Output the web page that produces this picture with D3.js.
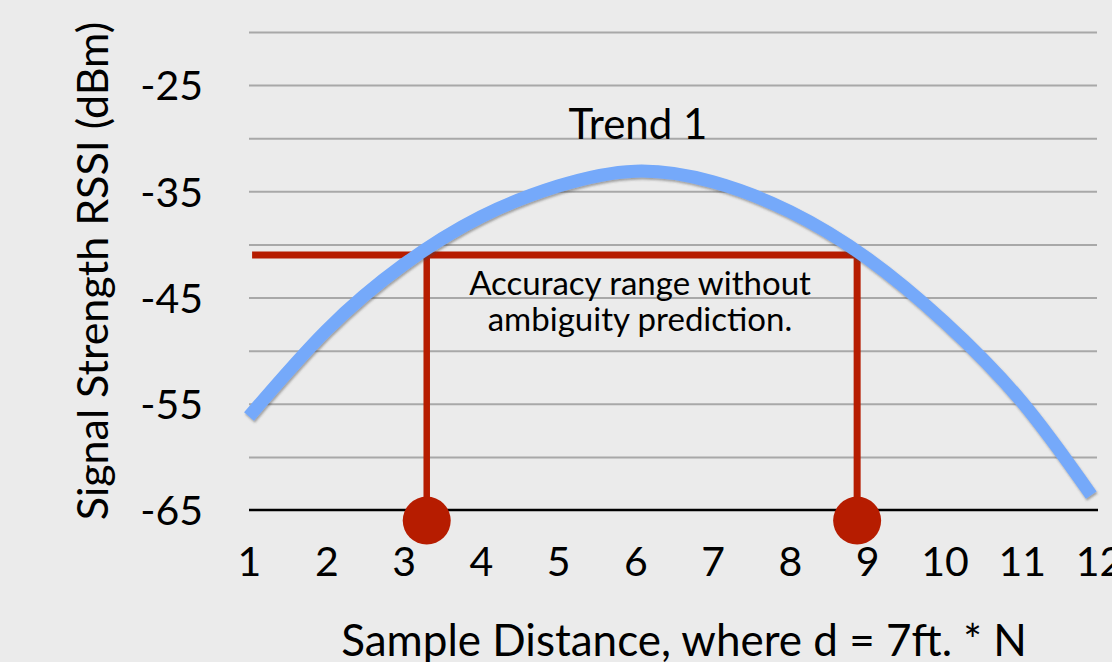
<!DOCTYPE html>
<html>
<head>
<meta charset="utf-8">
<script src="https://cdn.jsdelivr.net/npm/d3@7"></script>
<style>
  body { margin: 0; background: #ebebeb; }
  svg { display: block; }
  text { font-family: Lato, "Open Sans", sans-serif; fill: #000; }
</style>
</head>
<body>
<script>
// chart data
var sampleTicks = [1, 2, 3, 4, 5, 6, 7, 8, 9, 10, 11, 12];
var rssiTickLabels = [-25, -35, -45, -55, -65];
var gridLevels = [-20, -25, -30, -35, -40, -45, -50, -55, -60];
var trendX = [1, 2, 3, 4, 5, 6, 7, 8, 9, 10, 11, 11.9];
var trendY = [-56.2, -48.1, -41.9, -37.4, -34.5, -33.1, -34.1, -36.9, -41.3, -47.3, -54.8, -63.6];
var rangeLevel = -41;
var rangeStart = 1.04;
var rangeEnds = [3.3, 8.87];
var markerLevel = -66;
var annotationLines = ["Accuracy range without", "ambiguity prediction."];

var svgWidth = 1112;
var svgHeight = 662;

var svg = d3.select("body")
  .append("svg")
  .attr("width", svgWidth)
  .attr("height", svgHeight);

svg.append("rect")
  .attr("width", svgWidth)
  .attr("height", svgHeight)
  .attr("fill", "#ebebeb");

// soft shadow under the trend line
var defs = svg.append("defs");
defs.append("filter")
  .attr("id", "shadow")
  .attr("x", "-5%").attr("y", "-5%")
  .attr("width", "110%").attr("height", "120%")
  .append("feDropShadow")
  .attr("dx", 1).attr("dy", 2)
  .attr("stdDeviation", 1.2)
  .attr("flood-color", "#444")
  .attr("flood-opacity", 0.45);

var xScale = d3.scaleLinear()
  .domain([1, 12])
  .range([249, 1099]);

var yScale = d3.scaleLinear()
  .domain([-20, -65])
  .range([32, 510]);

// gray gridlines
var gridAxis = d3.axisLeft(yScale)
  .tickValues(gridLevels)
  .tickSize(-(xScale(12) - xScale(1)) + 2)
  .tickFormat("");

var grid = svg.append("g")
  .attr("transform", `translate(${xScale(1)}, 0)`)
  .call(gridAxis);
grid.select(".domain").remove();
grid.selectAll("line")
  .attr("stroke", "#a8a8a8")
  .attr("stroke-width", 2);

// bottom axis line
svg.append("line")
  .attr("x1", xScale(1))
  .attr("x2", xScale(12) - 1)
  .attr("y1", yScale(-65))
  .attr("y2", yScale(-65))
  .attr("stroke", "#000")
  .attr("stroke-width", 2.5);

// y tick labels
var leftAxis = d3.axisLeft(yScale)
  .tickValues(rssiTickLabels)
  .tickSize(0)
  .tickPadding(46)
  .tickFormat(d => d);

var yAxisG = svg.append("g")
  .attr("transform", `translate(${xScale(1)}, 0)`)
  .call(leftAxis);
yAxisG.select(".domain").remove();
yAxisG.selectAll("text")
  .attr("font-size", "41px")
  .attr("font-family", "Lato, sans-serif")
  .attr("fill", "#000")
  .attr("dy", "0.36em");

// x tick labels
var bottomAxis = d3.axisBottom(xScale)
  .tickValues(sampleTicks)
  .tickSize(0)
  .tickPadding(37)
  .tickFormat(d => d);

var xAxisG = svg.append("g")
  .attr("transform", `translate(0, ${yScale(-65)})`)
  .call(bottomAxis);
xAxisG.select(".domain").remove();
xAxisG.selectAll("text")
  .attr("font-size", "41px")
  .attr("font-family", "Lato, sans-serif")
  .attr("fill", "#000");

// red accuracy range lines
var red = "#b61c00";
var rangePath = d3.path();
rangePath.moveTo(xScale(rangeStart), yScale(rangeLevel));
rangePath.lineTo(xScale(rangeEnds[1]), yScale(rangeLevel));
rangePath.lineTo(xScale(rangeEnds[1]), yScale(markerLevel));

svg.append("path")
  .attr("d", rangePath.toString())
  .attr("fill", "none")
  .attr("stroke", red)
  .attr("stroke-width", 7)
  .attr("stroke-linejoin", "miter");

svg.append("line")
  .attr("x1", xScale(rangeEnds[0]))
  .attr("x2", xScale(rangeEnds[0]))
  .attr("y1", yScale(rangeLevel))
  .attr("y2", yScale(markerLevel))
  .attr("stroke", red)
  .attr("stroke-width", 6.5);

svg.selectAll(".marker")
  .data(rangeEnds)
  .enter()
  .append("circle")
  .attr("class", "marker")
  .attr("cx", d => xScale(d))
  .attr("cy", yScale(markerLevel))
  .attr("r", 24)
  .attr("fill", red);

// trend line
var trendData = trendX.map((x, i) => [x, trendY[i]]);
var line = d3.line()
  .x(d => xScale(d[0]))
  .y(d => yScale(d[1]))
  .curve(d3.curveNatural);

svg.append("path")
  .datum(trendData)
  .attr("d", line)
  .attr("fill", "none")
  .attr("stroke", "#75a9fa")
  .attr("stroke-width", 13)
  .attr("filter", "url(#shadow)");

// labels
svg.append("text")
  .attr("x", 638)
  .attr("y", 139)
  .attr("text-anchor", "middle")
  .attr("font-size", "42px")
  .text("Trend 1");

svg.selectAll(".note")
  .data(annotationLines)
  .enter()
  .append("text")
  .attr("class", "note")
  .attr("x", 640)
  .attr("y", (d, i) => 295 + i * 36)
  .attr("text-anchor", "middle")
  .attr("font-size", "33px")
  .text(d => d);

svg.append("text")
  .attr("x", 684)
  .attr("y", 656)
  .attr("text-anchor", "middle")
  .attr("font-size", "44px")
  .text("Sample Distance, where d = 7ft. * N");

svg.append("text")
  .attr("transform", "rotate(-90)")
  .attr("x", -271)
  .attr("y", 108)
  .attr("text-anchor", "middle")
  .attr("font-size", "43px")
  .text("Signal Strength RSSI (dBm)");
</script>
</body>
</html>
